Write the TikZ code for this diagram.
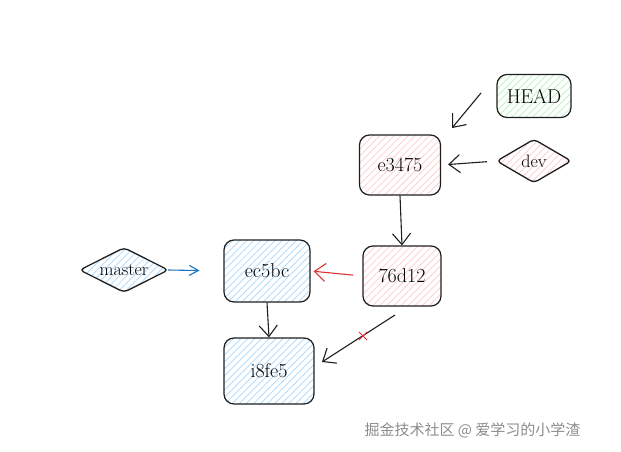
\documentclass[tikz,border=0pt]{standalone}
\usepackage{fontspec}
\newfontfamily\cjk{Noto Sans CJK SC}
\usetikzlibrary{arrows.meta,patterns.meta,calc}
\definecolor{hblue}{HTML}{A5D8FF}
\definecolor{hred}{HTML}{FFC9C9}
\definecolor{hgreen}{HTML}{B2F2BB}
\definecolor{ablue}{HTML}{1971C2}
\definecolor{ared}{HTML}{E03131}
\definecolor{ink}{HTML}{1E1E1E}
\tikzset{
  hatch/.style={pattern={Lines[angle=45,distance=5pt,line width=0.7pt]}, pattern color=#1},
  commit/.style={draw=ink, line width=1.2pt, rounded corners=10pt, font=\fontsize{20}{22}\selectfont, hatch=#1},
  refd/.style={inner sep=0pt, font=\fontsize{18}{20}\selectfont},
  dshape/.style={draw=ink, line width=1.3pt, line join=round, rounded corners=4pt, hatch=#1},
  link/.style={draw=ink, line width=1.1pt, -{Straight Barb[length=11pt,width=18pt,line width=1.1pt]}},
}
\begin{document}
\begin{tikzpicture}[x=1pt,y=-1pt]
\useasboundingbox (0,0) rectangle (621,452);
\node[commit=hgreen, minimum width=74pt, minimum height=43pt] (head) at (534,96) {HEAD};
\node[commit=hred, minimum width=81pt, minimum height=60pt] (e3475) at (400,165) {e3475};
\node[refd, minimum width=74pt, minimum height=43pt] (dev) at (534,161) {};
\node[commit=hred, minimum width=78pt, minimum height=60pt] (d76) at (402,276) {76d12};
\node[commit=hblue, minimum width=86pt, minimum height=62pt] (ec5bc) at (267,271) {ec5bc};
\node[refd, minimum width=88pt, minimum height=44pt] (master) at (124,270) {};
\node[commit=hblue, minimum width=90pt, minimum height=66pt] (i8fe5) at (269,371) {i8fe5};
\path[dshape=hred] (dev.north) -- (dev.east) -- (dev.south) -- (dev.west) -- cycle;
\path[dshape=hblue] (master.north) -- (master.east) -- (master.south) -- (master.west) -- cycle;
\node[refd] (devt) at (dev.center) {dev};
\node[refd] (mastert) at (master.center) {master};
\coordinate (h1) at (481,93);
\coordinate (h2) at (452,128);
\coordinate (c1) at (395,315);
\coordinate (c2) at (322,362);
\coordinate (xm) at (363,336);
\draw[link] (h1) -- (h2);
\draw[link, shorten <=10pt, shorten >=7pt] (dev.west) -- (e3475.east);
\draw[link] (e3475.south) -- (d76.north);
\draw[link, draw=ared, shorten <=9pt, shorten >=3pt] (d76.west) -- (ec5bc.east);
\draw[link, draw=ablue, -{Straight Barb[length=9pt,width=10pt,line width=1.1pt]}, shorten >=24pt] (master.east) -- (ec5bc.west);
\draw[link] (ec5bc.south) -- (i8fe5.north);
\draw[link] (c1) -- (c2);
\draw[ared, line width=1pt] ($(xm)+(-4,-4)$) -- ($(xm)+(4,4)$) ($(xm)+(-4,4)$) -- ($(xm)+(4,-4)$);
\node[font=\cjk\fontsize{15}{17}\selectfont, text=black!45, anchor=west] (wm) at (361,430) {掘金技术社区 @ 爱学习的小学渣};
\end{tikzpicture}
\end{document}
